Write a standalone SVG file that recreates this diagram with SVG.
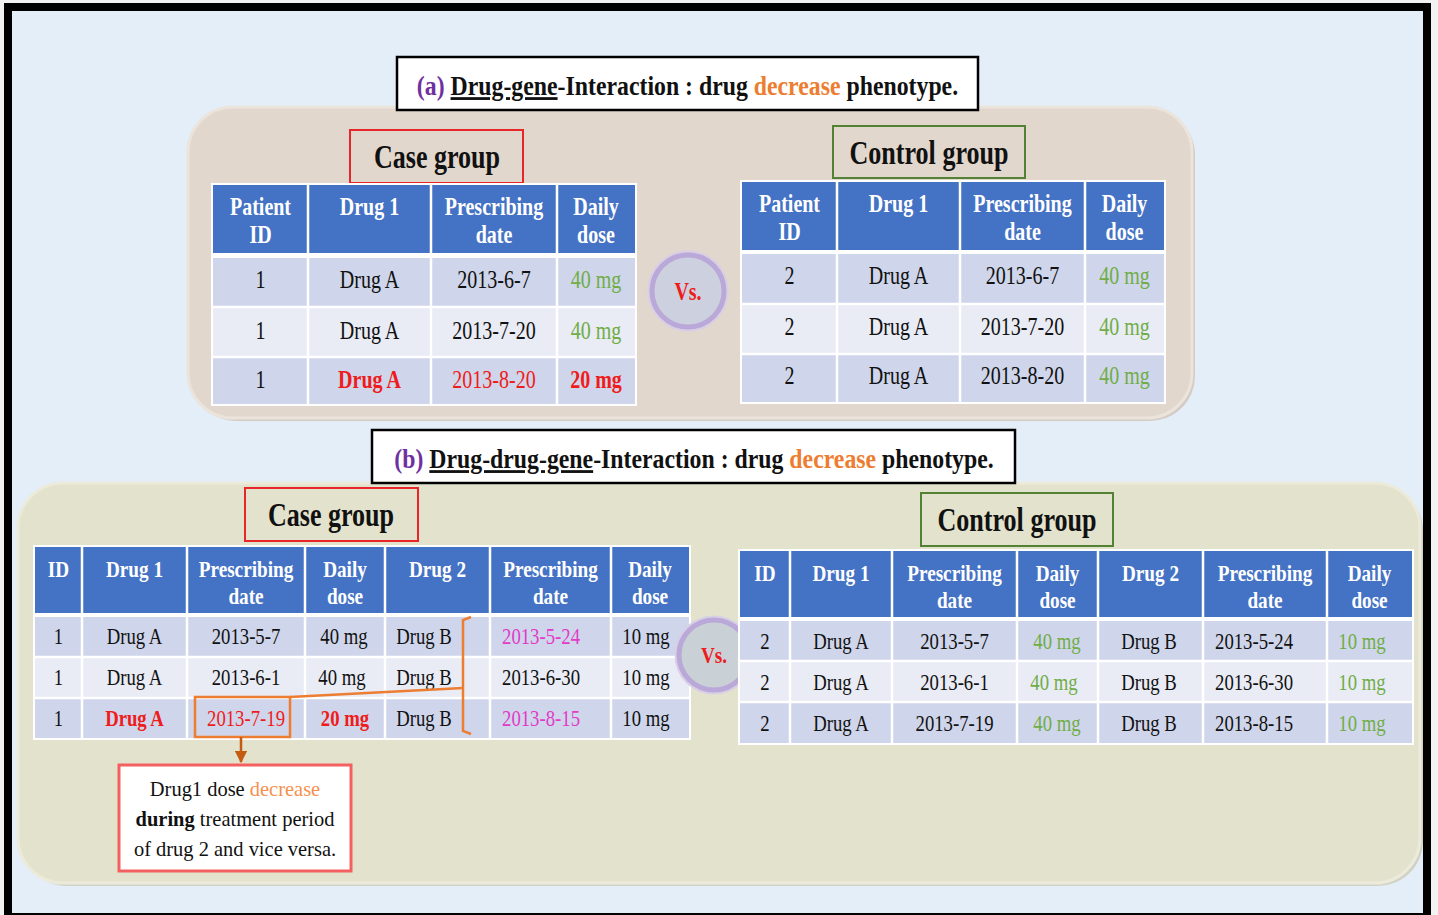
<svg xmlns="http://www.w3.org/2000/svg" width="1438" height="915" viewBox="0 0 1438 915">
  <style>
    .t{font-family:"Liberation Serif","Times New Roman",serif;text-anchor:middle;fill:#111}
    .h{font-weight:bold;fill:#fff;font-size:25px}
    .hb{font-weight:bold;fill:#fff;font-size:24px}
    .c{font-size:26px}
    .cb{font-size:24px}
    .g{fill:#70ad47}
    .r{fill:#ee1c1c}
    .b{font-weight:bold}
    .m{fill:#e03cc8}
    .grp{font-weight:bold;font-size:33px}
    .ttl{font-weight:bold;font-size:28px}
    .hdr{fill:#4472c4}
    .odd{fill:#cfd5ea}
    .even{fill:#e9ebf5}
    .sep{stroke:#fff;stroke-width:2.5}
    .or{stroke:#ed7d31;stroke-width:2.5;fill:none}
  </style>
  <defs>
    <marker id="arr" viewBox="0 0 10 10" refX="9" refY="5" markerWidth="5" markerHeight="5" orient="auto">
      <path d="M0,0 L10,5 L0,10 z" fill="#c55a11"/>
    </marker>
  </defs>

  <!-- frame -->
  <rect x="0" y="0" width="1438" height="915" fill="#f2f2f2"/>
  <rect x="8" y="7" width="1419" height="910" fill="#e3eef8" stroke="#000" stroke-width="8"/>

  <!-- panel (a) -->
  <g id="panel-a">
    <rect x="191" y="110" width="1004" height="311" rx="45" fill="#d4ccc4"/>
    <rect x="188" y="107" width="1004" height="311" rx="45" fill="#e2d7cd" stroke="#ebe4dc" stroke-width="3"/>
  </g>
  <!-- panel (b) -->
  <g id="panel-b">
    <rect x="21" y="486" width="1402" height="400" rx="45" fill="#d2d2c4"/>
    <rect x="18" y="483" width="1402" height="400" rx="45" fill="#e3e2cc" stroke="#ecebdb" stroke-width="3"/>
  </g>

  <!-- title (a) -->
  <g id="title-a">
    <rect x="397" y="57" width="581" height="53" fill="#fff" stroke="#000" stroke-width="2.5"/>
    <text class="t ttl" transform="translate(687.5 95) scale(.85 1)"><tspan fill="#7030a0">(a)</tspan> <tspan text-decoration="underline">Drug-gene</tspan>-Interaction : drug <tspan fill="#ed7d31">decrease</tspan> phenotype.</text>
  </g>

  <!-- case group (a) -->
  <g id="case-a">
    <rect x="350" y="130" width="173" height="53" fill="none" stroke="#e8262a" stroke-width="2"/>
    <text class="t grp" transform="translate(437 168) scale(.79 1)">Case group</text>
    <rect x="211" y="183" width="426" height="223" fill="#fff"/>
    <rect class="hdr" x="213" y="185" width="422" height="68"/>
    <rect class="odd" x="213" y="258" width="422" height="49"/>
    <rect class="even" x="213" y="307" width="422" height="50"/>
    <rect class="odd" x="213" y="357" width="422" height="47"/>
    <path class="sep" d="M308,185V404M431,185V404M557,185V404M213,307H635M213,357H635"/>
    <text class="t h" transform="translate(260.5 215) scale(.8 1)">Patient</text>
    <text class="t h" transform="translate(260.5 243) scale(.8 1)">ID</text>
    <text class="t h" transform="translate(369.5 215) scale(.8 1)">Drug 1</text>
    <text class="t h" transform="translate(494 215) scale(.8 1)">Prescribing</text>
    <text class="t h" transform="translate(494 243) scale(.8 1)">date</text>
    <text class="t h" transform="translate(596 215) scale(.8 1)">Daily</text>
    <text class="t h" transform="translate(596 243) scale(.8 1)">dose</text>
    <text class="t c" transform="translate(260.5 288) scale(.77 1)">1</text>
    <text class="t c" transform="translate(369.5 288) scale(.77 1)">Drug A</text>
    <text class="t c" transform="translate(494 288) scale(.77 1)">2013-6-7</text>
    <text class="t c g" transform="translate(596 288) scale(.77 1)">40 mg</text>
    <text class="t c" transform="translate(260.5 339) scale(.77 1)">1</text>
    <text class="t c" transform="translate(369.5 339) scale(.77 1)">Drug A</text>
    <text class="t c" transform="translate(494 339) scale(.77 1)">2013-7-20</text>
    <text class="t c g" transform="translate(596 339) scale(.77 1)">40 mg</text>
    <text class="t c" transform="translate(260.5 388) scale(.77 1)">1</text>
    <text class="t c r b" transform="translate(369.5 388) scale(.77 1)">Drug A</text>
    <text class="t c r" transform="translate(494 388) scale(.77 1)">2013-8-20</text>
    <text class="t c r b" transform="translate(596 388) scale(.77 1)">20 mg</text>
  </g>

  <!-- vs (a) -->
  <g id="vs-a">
    <circle cx="688" cy="291" r="39" fill="none" stroke="#d8cfe6" stroke-width="3"/>
    <circle cx="688" cy="291" r="36" fill="#cdd0de" stroke="#b9a8d8" stroke-width="5"/>
    <text class="t b r" font-size="25" transform="translate(688 300) scale(.8 1)">Vs.</text>
  </g>

  <!-- control group (a) -->
  <g id="control-a">
    <rect x="833" y="126" width="192" height="52" fill="none" stroke="#548235" stroke-width="2"/>
    <text class="t grp" transform="translate(929 164) scale(.79 1)">Control group</text>
    <rect x="740" y="180" width="426" height="224" fill="#fff"/>
    <rect class="hdr" x="742" y="182" width="422" height="68"/>
    <rect class="odd" x="742" y="254" width="422" height="50"/>
    <rect class="even" x="742" y="304" width="422" height="50"/>
    <rect class="odd" x="742" y="354" width="422" height="48"/>
    <path class="sep" d="M837,182V402M960,182V402M1085,182V402M742,304H1164M742,354H1164"/>
    <text class="t h" transform="translate(789.5 212) scale(.8 1)">Patient</text>
    <text class="t h" transform="translate(789.5 240) scale(.8 1)">ID</text>
    <text class="t h" transform="translate(898.5 212) scale(.8 1)">Drug 1</text>
    <text class="t h" transform="translate(1022.5 212) scale(.8 1)">Prescribing</text>
    <text class="t h" transform="translate(1022.5 240) scale(.8 1)">date</text>
    <text class="t h" transform="translate(1124.5 212) scale(.8 1)">Daily</text>
    <text class="t h" transform="translate(1124.5 240) scale(.8 1)">dose</text>
    <text class="t c" transform="translate(789.5 284) scale(.77 1)">2</text>
    <text class="t c" transform="translate(898.5 284) scale(.77 1)">Drug A</text>
    <text class="t c" transform="translate(1022.5 284) scale(.77 1)">2013-6-7</text>
    <text class="t c g" transform="translate(1124.5 284) scale(.77 1)">40 mg</text>
    <text class="t c" transform="translate(789.5 335) scale(.77 1)">2</text>
    <text class="t c" transform="translate(898.5 335) scale(.77 1)">Drug A</text>
    <text class="t c" transform="translate(1022.5 335) scale(.77 1)">2013-7-20</text>
    <text class="t c g" transform="translate(1124.5 335) scale(.77 1)">40 mg</text>
    <text class="t c" transform="translate(789.5 384) scale(.77 1)">2</text>
    <text class="t c" transform="translate(898.5 384) scale(.77 1)">Drug A</text>
    <text class="t c" transform="translate(1022.5 384) scale(.77 1)">2013-8-20</text>
    <text class="t c g" transform="translate(1124.5 384) scale(.77 1)">40 mg</text>
  </g>

  <!-- title (b) -->
  <g id="title-b">
    <rect x="372" y="430" width="643" height="53" fill="#fff" stroke="#000" stroke-width="2.5"/>
    <text class="t ttl" transform="translate(694 468) scale(.85 1)"><tspan fill="#7030a0">(b)</tspan> <tspan text-decoration="underline">Drug-drug-gene</tspan>-Interaction : drug <tspan fill="#ed7d31">decrease</tspan> phenotype.</text>
  </g>

  <!-- case group (b) -->
  <g id="case-b">
    <rect x="245" y="488" width="173" height="53" fill="none" stroke="#e8262a" stroke-width="2"/>
    <text class="t grp" transform="translate(331 526) scale(.79 1)">Case group</text>
    <rect x="33" y="545" width="658" height="195" fill="#fff"/>
    <rect class="hdr" x="35" y="547" width="654" height="66"/>
    <rect class="odd" x="35" y="617" width="654" height="40"/>
    <rect class="even" x="35" y="657" width="654" height="41"/>
    <rect class="odd" x="35" y="698" width="654" height="40"/>
    <path class="sep" d="M82,547V738M187,547V738M305,547V738M385,547V738M490,547V738M611,547V738M35,657H689M35,698H689"/>
    <text class="t hb" transform="translate(58.5 577) scale(.8 1)">ID</text>
    <text class="t hb" transform="translate(134.5 577) scale(.8 1)">Drug 1</text>
    <text class="t hb" transform="translate(246 577) scale(.8 1)">Prescribing</text>
    <text class="t hb" transform="translate(246 604) scale(.8 1)">date</text>
    <text class="t hb" transform="translate(345 577) scale(.8 1)">Daily</text>
    <text class="t hb" transform="translate(345 604) scale(.8 1)">dose</text>
    <text class="t hb" transform="translate(437.5 577) scale(.8 1)">Drug 2</text>
    <text class="t hb" transform="translate(550.5 577) scale(.8 1)">Prescribing</text>
    <text class="t hb" transform="translate(550.5 604) scale(.8 1)">date</text>
    <text class="t hb" transform="translate(650 577) scale(.8 1)">Daily</text>
    <text class="t hb" transform="translate(650 604) scale(.8 1)">dose</text>

    <text class="t cb" transform="translate(58.5 644) scale(.78 1)">1</text>
    <text class="t cb" transform="translate(134.5 644) scale(.78 1)">Drug A</text>
    <text class="t cb" transform="translate(246 644) scale(.78 1)">2013-5-7</text>
    <text class="t cb" transform="translate(344 644) scale(.78 1)">40 mg</text>
    <text class="t cb" transform="translate(424 644) scale(.78 1)">Drug B</text>
    <text class="t cb m" transform="translate(541 644) scale(.78 1)">2013-5-24</text>
    <text class="t cb" transform="translate(646 644) scale(.78 1)">10 mg</text>

    <text class="t cb" transform="translate(58.5 685) scale(.78 1)">1</text>
    <text class="t cb" transform="translate(134.5 685) scale(.78 1)">Drug A</text>
    <text class="t cb" transform="translate(246 685) scale(.78 1)">2013-6-1</text>
    <text class="t cb" transform="translate(342 685) scale(.78 1)">40 mg</text>
    <text class="t cb" transform="translate(424 685) scale(.78 1)">Drug B</text>
    <text class="t cb" transform="translate(541 685) scale(.78 1)">2013-6-30</text>
    <text class="t cb" transform="translate(646 685) scale(.78 1)">10 mg</text>

    <text class="t cb" transform="translate(58.5 726) scale(.78 1)">1</text>
    <text class="t cb r b" transform="translate(134.5 726) scale(.78 1)">Drug A</text>
    <text class="t cb r" transform="translate(246 726) scale(.78 1)">2013-7-19</text>
    <text class="t cb r b" transform="translate(345 726) scale(.78 1)">20 mg</text>
    <text class="t cb" transform="translate(424 726) scale(.78 1)">Drug B</text>
    <text class="t cb m" transform="translate(541 726) scale(.78 1)">2013-8-15</text>
    <text class="t cb" transform="translate(646 726) scale(.78 1)">10 mg</text>
  </g>

  <!-- vs (b) -->
  <g id="vs-b">
    <circle cx="714" cy="655" r="38" fill="none" stroke="#d8cfe6" stroke-width="3"/>
    <circle cx="714" cy="655" r="35" fill="#c9d1d6" stroke="#b9a8d8" stroke-width="5"/>
    <text class="t b r" font-size="24" transform="translate(714 663) scale(.8 1)">Vs.</text>
  </g>

  <!-- control group (b) -->
  <g id="control-b">
    <rect x="921" y="493" width="192" height="53" fill="none" stroke="#548235" stroke-width="2"/>
    <text class="t grp" transform="translate(1017 531) scale(.79 1)">Control group</text>
    <rect x="738" y="549" width="676" height="196" fill="#fff"/>
    <rect class="hdr" x="740" y="551" width="672" height="66"/>
    <rect class="odd" x="740" y="621" width="672" height="40"/>
    <rect class="even" x="740" y="661" width="672" height="41"/>
    <rect class="odd" x="740" y="702" width="672" height="41"/>
    <path class="sep" d="M790,551V743M892,551V743M1017,551V743M1098,551V743M1203,551V743M1327,551V743M740,661H1412M740,702H1412"/>
    <text class="t hb" transform="translate(765 581) scale(.8 1)">ID</text>
    <text class="t hb" transform="translate(841 581) scale(.8 1)">Drug 1</text>
    <text class="t hb" transform="translate(954.5 581) scale(.8 1)">Prescribing</text>
    <text class="t hb" transform="translate(954.5 608) scale(.8 1)">date</text>
    <text class="t hb" transform="translate(1057.5 581) scale(.8 1)">Daily</text>
    <text class="t hb" transform="translate(1057.5 608) scale(.8 1)">dose</text>
    <text class="t hb" transform="translate(1150.5 581) scale(.8 1)">Drug 2</text>
    <text class="t hb" transform="translate(1265 581) scale(.8 1)">Prescribing</text>
    <text class="t hb" transform="translate(1265 608) scale(.8 1)">date</text>
    <text class="t hb" transform="translate(1369.5 581) scale(.8 1)">Daily</text>
    <text class="t hb" transform="translate(1369.5 608) scale(.8 1)">dose</text>

    <text class="t cb" transform="translate(765 649) scale(.78 1)">2</text>
    <text class="t cb" transform="translate(841 649) scale(.78 1)">Drug A</text>
    <text class="t cb" transform="translate(954.5 649) scale(.78 1)">2013-5-7</text>
    <text class="t cb g" transform="translate(1057 649) scale(.78 1)">40 mg</text>
    <text class="t cb" transform="translate(1149 649) scale(.78 1)">Drug B</text>
    <text class="t cb" transform="translate(1254 649) scale(.78 1)">2013-5-24</text>
    <text class="t cb g" transform="translate(1362 649) scale(.78 1)">10 mg</text>

    <text class="t cb" transform="translate(765 690) scale(.78 1)">2</text>
    <text class="t cb" transform="translate(841 690) scale(.78 1)">Drug A</text>
    <text class="t cb" transform="translate(954.5 690) scale(.78 1)">2013-6-1</text>
    <text class="t cb g" transform="translate(1054 690) scale(.78 1)">40 mg</text>
    <text class="t cb" transform="translate(1149 690) scale(.78 1)">Drug B</text>
    <text class="t cb" transform="translate(1254 690) scale(.78 1)">2013-6-30</text>
    <text class="t cb g" transform="translate(1362 690) scale(.78 1)">10 mg</text>

    <text class="t cb" transform="translate(765 731) scale(.78 1)">2</text>
    <text class="t cb" transform="translate(841 731) scale(.78 1)">Drug A</text>
    <text class="t cb" transform="translate(954.5 731) scale(.78 1)">2013-7-19</text>
    <text class="t cb g" transform="translate(1057 731) scale(.78 1)">40 mg</text>
    <text class="t cb" transform="translate(1149 731) scale(.78 1)">Drug B</text>
    <text class="t cb" transform="translate(1254 731) scale(.78 1)">2013-8-15</text>
    <text class="t cb g" transform="translate(1362 731) scale(.78 1)">10 mg</text>
  </g>

  <!-- annotation note -->
  <g id="note">
    <rect x="119" y="765" width="232" height="106" fill="#fff" stroke="#f4605f" stroke-width="3"/>
    <text class="t" font-size="22" transform="translate(235 796) scale(.93 1)">Drug1 dose <tspan fill="#f4914f">decrease</tspan></text>
    <text class="t" font-size="22" transform="translate(235 826) scale(.93 1)"><tspan font-weight="bold">during</tspan> treatment period</text>
    <text class="t" font-size="22" transform="translate(235 856) scale(.93 1)">of drug 2 and vice versa.</text>
  </g>

  <!-- connectors -->
  <g id="connectors">
    <path class="or" d="M471,617 L463,620 L463,731 L471,734"/>
    <path class="or" d="M463,688 L290,697"/>
    <rect class="or" x="195" y="697" width="95" height="40"/>
    <path d="M241,737 V762" stroke="#c55a11" stroke-width="2.5" fill="none" marker-end="url(#arr)"/>
  </g>
</svg>
